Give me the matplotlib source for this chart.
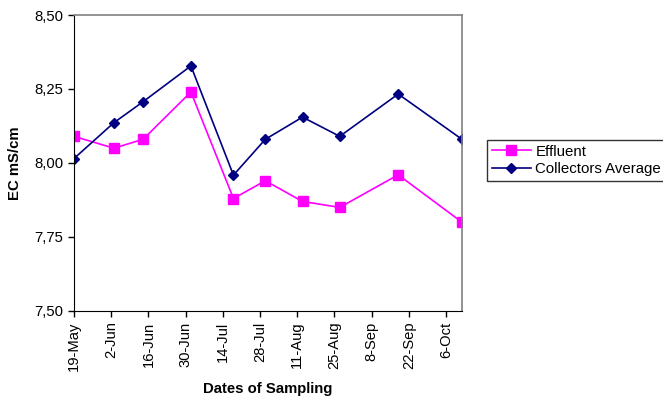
import numpy as np
import pandas as pd
import matplotlib
matplotlib.use("Agg")
import matplotlib.pyplot as plt
import matplotlib.dates as mdates
from matplotlib.ticker import FuncFormatter

plt.rcParams['font.family'] = ['Liberation Sans', 'DejaVu Sans']

# sampling dates and EC values (mS/cm)
dates = pd.to_datetime(["2004-05-19", "2004-06-03", "2004-06-14", "2004-07-02",
                        "2004-07-18", "2004-07-30", "2004-08-13", "2004-08-27",
                        "2004-09-18", "2004-10-12"])
effluent = [8.09, 8.05, 8.08, 8.24, 7.88, 7.94, 7.87, 7.85, 7.96, 7.80]
collectors = [8.015, 8.136, 8.207, 8.328, 7.959, 8.08, 8.155, 8.09, 8.233, 8.08]

fig = plt.figure(figsize=(6.63, 3.99), dpi=100)
ax = fig.add_axes([0.1116, 0.2206, 0.5852, 0.7418])

ax.plot(dates, effluent, color='#FF00FF', marker='s', markersize=6.5,
        linewidth=1.2, label='Effluent')
ax.plot(dates, collectors, color='#000080', marker='D', markersize=5,
        linewidth=1.2, label='Collectors Average')

ax.set_ylim(7.5, 8.5)
ax.set_yticks([7.5, 7.75, 8.0, 8.25, 8.5])
ax.yaxis.set_major_formatter(FuncFormatter(lambda v, p: f"{v:.2f}".replace('.', ',')))

ax.set_xlim(pd.Timestamp("2004-05-19"), pd.Timestamp("2004-10-12"))
ticks = pd.date_range("2004-05-19", "2004-10-06", freq="14D")
ax.set_xticks(ticks)
ax.xaxis.set_major_formatter(mdates.DateFormatter('%-d-%b'))

ax.tick_params(direction='out', length=4, width=1, colors='black')
ax.tick_params(axis='y', labelsize=10.7)
ax.tick_params(axis='x', labelsize=10.6, labelrotation=90)
for side in ['top', 'right']:
    ax.spines[side].set_color('#808080')
    ax.spines[side].set_linewidth(1.2)
for side in ['left', 'bottom']:
    ax.spines[side].set_color('black')

ax.set_ylabel('EC mS/cm', fontsize=10.7, fontweight='bold', labelpad=9)
ax.set_xlabel('Dates of Sampling', fontsize=10.7, fontweight='bold', labelpad=8)

leg = fig.legend(loc='upper left', bbox_to_anchor=(0.735, 0.649), fontsize=10.8,
                 frameon=True, fancybox=False, handlelength=2.6,
                 borderpad=0.3, labelspacing=0.25, handletextpad=0.3,
                 borderaxespad=0)
leg.get_frame().set_edgecolor('black')
leg.get_frame().set_linewidth(1)

fig.savefig("out.png", dpi=100)
